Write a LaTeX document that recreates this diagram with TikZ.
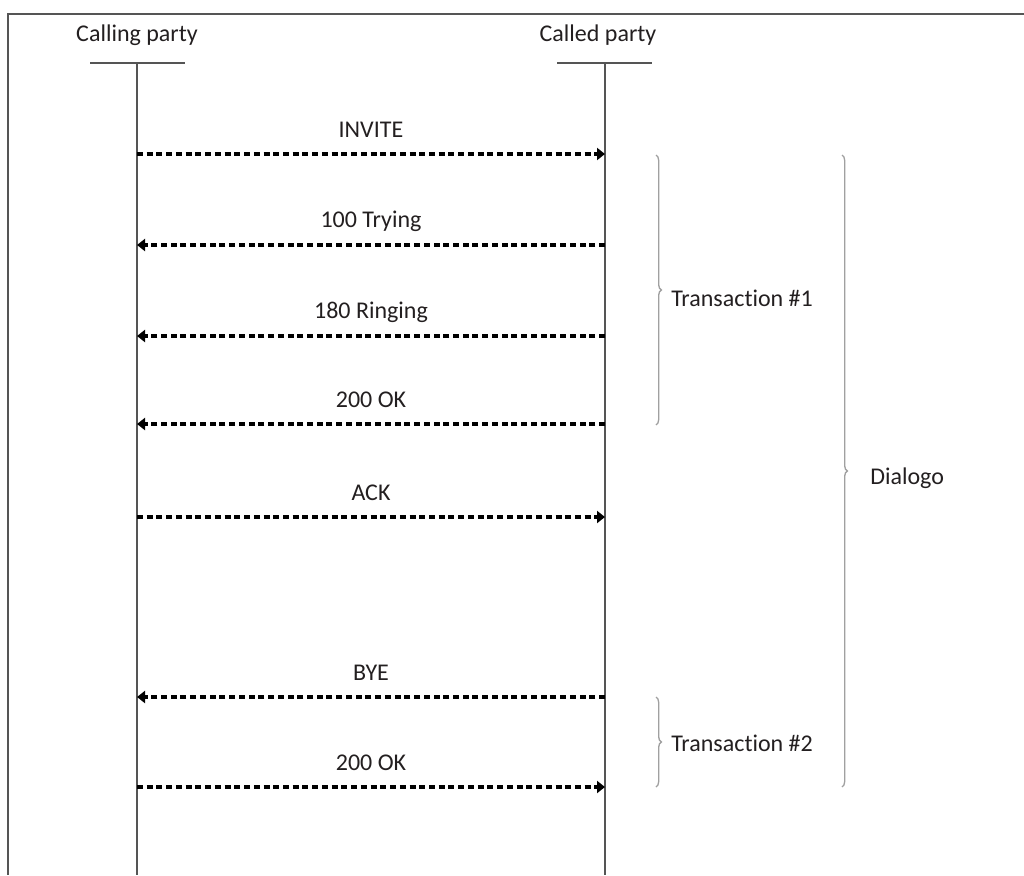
\documentclass[tikz,border=0pt]{standalone}
\usepackage{fontspec}
\setmainfont{Carlito}[Ligatures={NoCommon,NoRare,NoDiscretionary}]
\usetikzlibrary{arrows.meta,decorations.pathreplacing}
\definecolor{ink}{HTML}{231F20}
\definecolor{lifegray}{HTML}{555555}
\definecolor{bracegray}{HTML}{A0A0A0}
\tikzset{
  lbl/.style={text=ink,font=\fontsize{18}{20}\selectfont,inner sep=0pt},
  life/.style={draw=lifegray,line width=1.6pt},
  msg/.style={draw=black,line width=2.8pt,dash pattern=on 4.5pt off 2.8pt,-{Triangle[length=6pt,width=9pt]}},
  brc/.style={draw=bracegray,line width=1pt,decorate,decoration={brace,amplitude=4pt,aspect=0.5}},
}
\begin{document}
\begin{tikzpicture}[x=0.75pt,y=-0.75pt]
\useasboundingbox (0,0) rectangle (1024,875);
% frame
\draw[lifegray,line width=1.6pt] (1024,14) -- (8,14) -- (8,875);
% heads
\node[lbl] (hA) at (137,35) {Calling party};
\node[lbl] (hB) at (598,35) {Called party};
\coordinate (A0) at (137,63);
\coordinate (B0) at (605,63);
\coordinate (Aend) at (137,875);
\coordinate (Bend) at (605,875);
\draw[life] (90,63) -- (185,63);
\draw[life] (557,63) -- (652,63);
\draw[life] (A0) -- (Aend);
\draw[life] (B0) -- (Bend);
% message end points
\foreach \i/\y in {1/154,2/245,3/336,4/424,5/517,6/697,7/787}{
  \coordinate (a\i) at (137,\y);
  \coordinate (b\i) at (605,\y);
}
\draw[msg] (a1) -- (b1) node[lbl,midway,yshift=18pt] (m1) {INVITE};
\draw[msg] (b2) -- (a2) node[lbl,midway,yshift=18pt] (m2) {100 Trying};
\draw[msg] (b3) -- (a3) node[lbl,midway,yshift=18pt] (m3) {180 Ringing};
\draw[msg] (b4) -- (a4) node[lbl,midway,yshift=18pt] (m4) {200 OK};
\draw[msg] (a5) -- (b5) node[lbl,midway,yshift=18pt] (m5) {ACK};
\draw[msg] (b6) -- (a6) node[lbl,midway,yshift=18pt] (m6) {BYE};
\draw[msg] (a7) -- (b7) node[lbl,midway,yshift=18pt] (m7) {200 OK};
% braces
\coordinate (t1s) at (656,155);
\coordinate (t1e) at (656,425);
\coordinate (ds) at (842,155);
\coordinate (de) at (842,787);
\coordinate (t2s) at (656,697);
\coordinate (t2e) at (656,787);
\draw[brc] (t1s) -- (t1e);
\draw[brc] (ds) -- (de);
\draw[brc] (t2s) -- (t2e);
\node[lbl,anchor=west] (tr1) at (671,298) {Transaction \#1};
\node[lbl,anchor=west] (dlg) at (870,478) {Dialogo};
\node[lbl,anchor=west] (tr2) at (671,743) {Transaction \#2};
\end{tikzpicture}
\end{document}
